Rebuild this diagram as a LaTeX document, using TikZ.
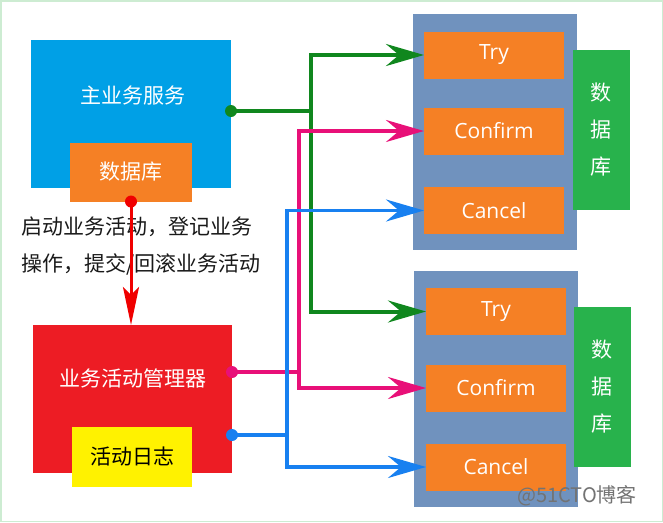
\documentclass[tikz,border=0pt]{standalone}
\usepackage{fontspec}
\setmainfont{Open Sans}
\newfontfamily\cjk{Noto Sans CJK SC}
\usetikzlibrary{arrows.meta}
\definecolor{svcBlue}{RGB}{0,160,230}
\definecolor{tccOrange}{RGB}{245,128,37}
\definecolor{tccGray}{RGB}{112,146,190}
\definecolor{dbGreen}{RGB}{40,178,76}
\definecolor{mgrRed}{RGB}{237,28,36}
\definecolor{logYellow}{RGB}{255,242,0}
\definecolor{wireGreen}{RGB}{16,135,30}
\definecolor{wirePink}{RGB}{232,16,120}
\definecolor{wireBlue}{RGB}{24,128,240}
\definecolor{wireRed}{RGB}{240,0,0}
\definecolor{frameGreen}{RGB}{205,236,210}

\begin{document}
\begin{tikzpicture}[x=1pt,y=-1pt,
				box/.style={rectangle,inner sep=0pt,outer sep=0pt},
				service/.style={box,fill=svcBlue},
				manager/.style={box,fill=mgrRed},
				title/.style={text=white,font=\cjk\fontsize{21}{25}\selectfont},
				database/.style={box,fill=tccOrange,text=white,font=\cjk\fontsize{21}{25}\selectfont},
				actlog/.style={box,fill=logYellow,text=black,font=\cjk\fontsize{21}{25}\selectfont},
				note/.style={align=left,text=black!90,font=\cjk\fontsize{21}{37}\selectfont},
				container/.style={box,fill=tccGray,minimum width=164pt,minimum height=236pt},
				operation/.style={box,fill=tccOrange,text=white,minimum width=140pt,minimum height=47pt,font=\fontsize{21}{25}\selectfont},
				localdb/.style={box,fill=dbGreen,text=white,align=center,minimum width=57pt,minimum height=160pt,font=\cjk\fontsize{21}{37}\selectfont},
				tips/.style={{Stealth[length=38pt,width=22pt,inset=13pt]}-{Stealth[length=38pt,width=22pt,inset=13pt]}},
				gwire/.style={draw=wireGreen,line width=4pt},
				pwire/.style={draw=wirePink,line width=3.5pt},
				bwire/.style={draw=wireBlue,line width=3.5pt},
				watermark/.style={text=black!55,font=\cjk\fontsize{20}{24}\selectfont}]
	\useasboundingbox (0,0) rectangle (663,522);
	\draw[frameGreen, line width=1.5pt] (0.75,0.75) rectangle (662.25,521.25);
	\node[service, minimum width=200pt, minimum height=148pt] (S) at (131,114) {};
	\node[title] (ST) at (133,96) {主业务服务};
	\node[database, minimum width=122pt, minimum height=59pt] (SDB) at (131,172) {数据库};
	\node[note, anchor=west] (N) at (18,246) {启动业务活动，登记业务\\操作，提交/回滚业务活动};
	\node[manager, minimum width=199pt, minimum height=148pt] (M) at (132.5,399) {};
	\node[title] (MT) at (132.5,378) {业务活动管理器};
	\node[actlog, minimum width=120pt, minimum height=60pt] (L) at (132,457) {活动日志};
	\node[container] (C1) at (495,132) {};
	\node[container] (C2) at (496,388.5) {};
	\node[operation] (T1) at (494,55) {Try};
	\node[operation] (F1) at (494,131) {Confirm};
	\node[operation] (X1) at (494,210.5) {Cancel};
	\node[operation] (T2) at (496,311.5) {Try};
	\node[operation] (F2) at (496,388) {Confirm};
	\node[operation] (X2) at (496,467) {Cancel};
	\node[localdb] (D1) at (601,130) {数\\据\\库};
	\node[localdb] (D2) at (602,387) {数\\据\\库};
	\node[watermark] (W) at (577,496) {@51CTO博客};
	\coordinate (gbus) at (311,0);
	\coordinate (pbus) at (299,0);
	\coordinate (bbus) at (287,0);
	\coordinate (gsrc) at ([yshift=3pt]S.east);
	\coordinate (psrc) at ([yshift=27pt]M.east);
	\coordinate (bsrc) at ([yshift=-36pt]M.east);
	\draw[gwire] (gsrc) -- (gsrc -| gbus);
	\draw[gwire, tips] (T1.west) -- (gbus |- T1.west) -- (gbus |- T2.west) -- (T2.west);
	\draw[pwire] (psrc) -- (psrc -| pbus);
	\draw[pwire, tips] (F1.west) -- (pbus |- F1.west) -- (pbus |- F2.west) -- (F2.west);
	\draw[bwire] (bsrc) -- (bsrc -| bbus);
	\draw[bwire, tips] (X1.west) -- (bbus |- X1.west) -- (bbus |- X2.west) -- (X2.west);
	\fill[wireGreen] (gsrc) circle (6pt);
	\fill[wirePink] (psrc) circle (6pt);
	\fill[wireBlue] (bsrc) circle (6pt);
	\draw[wireRed, line width=3pt, -{Stealth[length=38pt,width=16pt,inset=8pt]}] (SDB.south) -- (SDB.south |- M.north);
	\fill[wireRed] (SDB.south) circle (6pt);
\end{tikzpicture}
\end{document}
